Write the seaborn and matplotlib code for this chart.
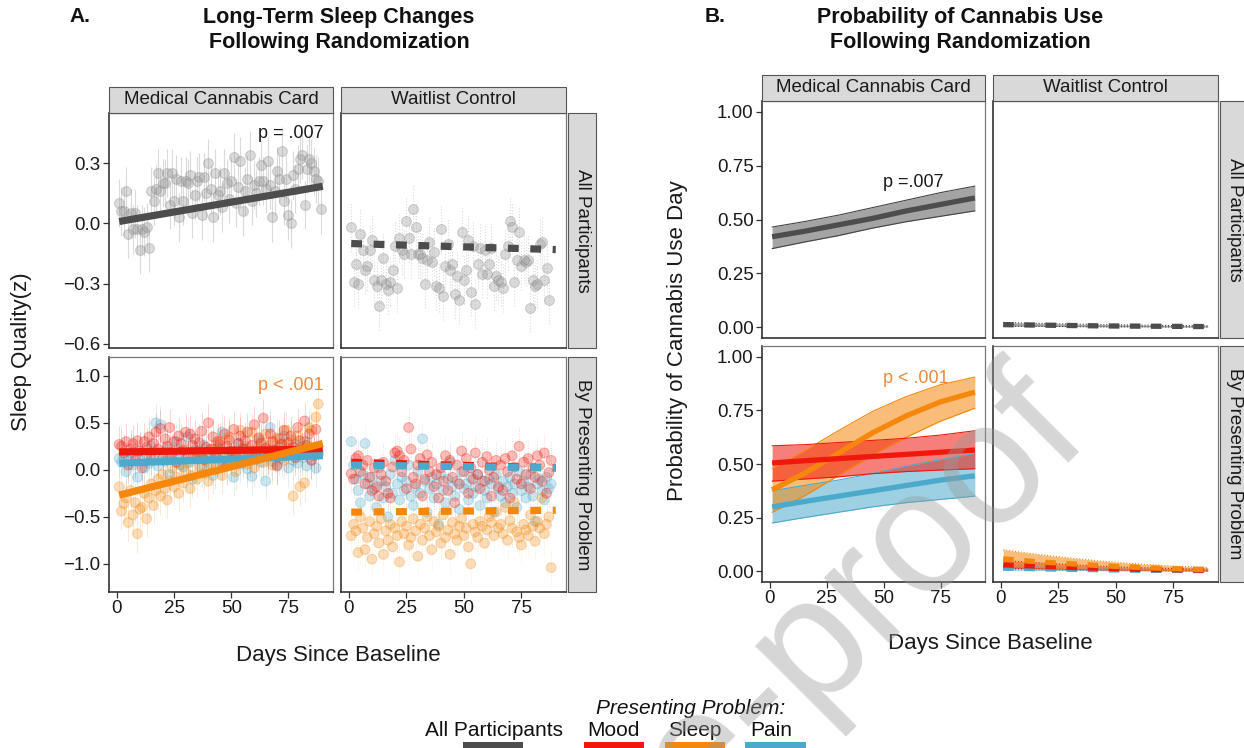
import numpy as np
import pandas as pd
import matplotlib
matplotlib.use("Agg")
import matplotlib.pyplot as plt
from matplotlib.patches import Rectangle
from matplotlib.ticker import FuncFormatter
import seaborn as sns

# ---------------- data ----------------
groups = ["Medical Cannabis Card", "Waitlist Control"]
rows = ["All Participants", "By Presenting Problem"]
problems = ["Mood", "Sleep", "Pain"]

# Panel A - daily mean sleep quality (z), Medical Cannabis Card, all participants
a_mcc_all = [0.10, 0.06, 0.06, 0.16, -0.05, 0.05, -0.03, 0.05, -0.03, -0.13, -0.03, -0.04,
             -0.02, -0.12, 0.16, 0.11, 0.17, 0.25, 0.16, 0.20, 0.20, 0.25, 0.09, 0.25,
             0.11, 0.22, 0.03, 0.21, 0.11, 0.21, 0.20, 0.24, 0.05, 0.14, 0.21, 0.23,
             0.04, 0.23, 0.15, 0.30, 0.17, 0.03, 0.25, 0.14, 0.16, 0.08, 0.25, 0.20,
             0.12, 0.21, 0.33, 0.10, 0.18, 0.31, 0.06, 0.16, 0.22, 0.34, 0.11, 0.19,
             0.15, 0.21, 0.29, 0.21, 0.17, 0.31, 0.19, 0.03, 0.16, 0.26, 0.22, 0.36,
             0.11, 0.22, 0.04, 0.00, 0.24, 0.17, 0.27, 0.32, 0.34, 0.09, 0.27, 0.32,
             0.30, 0.26, 0.22, 0.21, 0.07]
# Waitlist Control, all participants
a_wc_all = [-0.02, -0.29, -0.20, -0.30, -0.05, -0.13, -0.23, -0.21, -0.13, -0.08, -0.28,
            -0.31, -0.41, -0.28, -0.17, -0.30, -0.33, -0.29, -0.23, -0.11, -0.32, -0.07,
            -0.13, -0.15, 0.01, -0.07, -0.15, 0.07, -0.02, -0.15, -0.15, -0.17, -0.30,
            -0.18, -0.09, -0.19, -0.14, -0.31, -0.32, -0.03, -0.36, -0.21, -0.10, -0.23,
            -0.20, -0.35, -0.26, -0.38, -0.04, -0.28, -0.23, -0.08, -0.34, -0.11, -0.40,
            -0.20, -0.12, -0.25, -0.13, -0.25, -0.20, -0.12, -0.31, -0.26, -0.28, -0.29,
            -0.32, -0.15, -0.11, 0.01, -0.02, -0.29, -0.18, -0.04, -0.21, -0.18, -0.19,
            -0.18, -0.42, -0.28, -0.31, -0.30, -0.10, -0.09, -0.28, -0.22, -0.38]

# Panel A - by presenting problem, Medical Cannabis Card
a_mcc_mood = [0.27, 0.25, 0.18, 0.30, 0.05, 0.22, 0.28, 0.10, 0.31, 0.20, 0.02, 0.30, 0.24,
              0.35, 0.15, 0.28, 0.40, 0.22, 0.44, 0.12, 0.33, 0.25, 0.45, 0.18, 0.30, 0.08,
              0.36, 0.28, 0.21, 0.40, 0.14, 0.38, 0.26, 0.33, 0.19, 0.29, 0.41, 0.11, 0.24,
              0.50, 0.22, 0.35, 0.16, 0.30, 0.27, 0.09, 0.38, 0.25, 0.32, 0.20, 0.43, 0.14,
              0.28, 0.36, 0.22, 0.31, 0.40, 0.12, 0.26, 0.48, 0.19, 0.34, 0.28, 0.55, 0.23,
              0.15, 0.38, 0.30, 0.21, 0.04, 0.33, 0.27, 0.42, 0.18, 0.29, 0.36, 0.24, 0.13,
              0.45, 0.31, 0.20, 0.52, 0.26, 0.38, 0.10, 0.22, 0.43, 0.17]
a_mcc_sleep = [-0.18, -0.44, -0.36, -0.30, -0.56, -0.22, -0.48, -0.35, -0.68, -0.42, -0.40,
               -0.25, -0.52, -0.30, -0.15, -0.38, -0.22, -0.10, -0.28, -0.05, -0.20, -0.32,
               -0.12, 0.02, -0.18, -0.08, -0.25, 0.05, -0.14, -0.02, 0.08, -0.20, -0.06,
               0.12, -0.10, 0.03, 0.18, -0.04, 0.10, -0.12, 0.06, 0.22, 0.00, 0.15, 0.30,
               -0.06, 0.12, 0.04, 0.35, 0.08, 0.20, -0.02, 0.14, 0.42, 0.10, 0.25, 0.06,
               0.18, 0.40, 0.02, 0.22, 0.12, 0.30, 0.08, 0.38, 0.16, 0.26, 0.05, 0.20, 0.34,
               0.14, 0.28, 0.10, 0.42, 0.22, 0.32, -0.28, 0.18, 0.36, -0.18, 0.25, -0.14,
               0.30, 0.45, 0.42, 0.15, 0.56, 0.70]
a_mcc_pain = [0.12, 0.08, 0.15, -0.02, 0.10, 0.18, 0.05, 0.13, -0.08, 0.20, 0.09, 0.02, 0.16,
              0.07, 0.25, 0.11, 0.50, 0.04, 0.48, 0.14, 0.09, 0.22, -0.05, 0.17, 0.12, 0.30,
              0.06, 0.19, 0.03, 0.14, 0.35, 0.08, -0.10, 0.21, 0.11, 0.16, 0.02, 0.26, 0.13,
              0.07, 0.18, -0.06, 0.12, 0.24, 0.09, 0.40, 0.15, 0.04, 0.20, 0.10, -0.08, 0.17,
              0.28, 0.06, 0.13, 0.22, 0.01, 0.16, -0.07, 0.19, 0.11, 0.32, 0.08, 0.14, -0.12,
              0.21, 0.45, 0.09, 0.17, 0.05, 0.24, 0.12, 0.36, 0.15, 0.02, 0.20, 0.10, 0.27,
              0.07, 0.18, 0.13, 0.30, 0.04, 0.22, 0.11, 0.16, 0.02, 0.19]
# Waitlist Control by presenting problem
a_wc_mood = [-0.04, -0.10, 0.12, 0.15, -0.02, 0.05, -0.15, 0.10, -0.08, -0.22, 0.02, -0.18,
             -0.28, -0.05, 0.08, -0.12, -0.25, -0.30, 0.03, 0.18, 0.20, 0.15, -0.02, 0.10,
             -0.20, 0.45, 0.22, -0.08, -0.15, 0.05, 0.12, -0.28, -0.10, 0.16, -0.02, 0.08,
             -0.18, -0.05, -0.30, 0.02, -0.12, 0.15, -0.22, 0.10, -0.08, -0.35, 0.05, -0.15,
             0.20, -0.02, 0.12, -0.25, 0.02, -0.10, 0.18, -0.05, -0.20, 0.08, -0.12, 0.14,
             0.00, -0.28, -0.08, 0.10, -0.18, 0.05, -0.22, 0.12, -0.02, -0.30, 0.15, 0.03,
             -0.10, 0.25, -0.15, 0.08, -0.05, 0.12, -0.20, 0.02, -0.08, 0.15, 0.05, -0.12,
             0.18, -0.25, -0.03, 0.10]
a_wc_sleep = [-0.70, -0.58, -0.65, -0.88, -0.50, -0.62, -0.85, -0.72, -0.55, -0.95, -0.68,
              -0.60, -0.78, -0.52, -0.90, -0.65, -0.75, -0.58, -0.82, -0.62, -0.70, -0.98,
              -0.55, -0.68, -0.60, -0.80, -0.72, -0.52, -0.65, -0.92, -0.58, -0.75, -0.62,
              -0.50, -0.70, -0.85, -0.55, -0.66, -0.60, -0.78, -0.48, -0.72, -0.64, -0.90,
              -0.56, -0.68, -0.75, -0.60, -0.52, -0.70, -0.62, -0.82, -1.00, -0.58, -0.66,
              -0.72, -0.55, -0.60, -0.78, -0.64, -0.50, -0.56, -0.70, -0.45, -0.62, -0.58,
              -0.68, -0.40, -0.75, -0.54, -0.62, -0.35, -0.66, -0.72, -0.80, -0.58, -0.64,
              -0.70, -0.48, -0.60, -0.76, -0.55, -0.62, -0.30, -0.68, -0.58, -0.50, -1.04]
a_wc_pain = [0.30, 0.05, -0.10, -0.22, -0.35, -0.05, 0.28, -0.15, -0.28, -0.08, -0.20, -0.40,
             0.02, -0.12, -0.30, -0.18, -0.50, -0.05, -0.25, 0.10, -0.15, -0.32, -0.08, -0.22,
             -0.12, 0.05, -0.28, -0.38, -0.18, -0.02, -0.25, 0.33, -0.12, -0.45, -0.20, -0.08,
             -0.30, -0.15, -0.58, -0.05, -0.22, -0.35, -0.10, 0.08, -0.18, -0.28, -0.12, -0.42,
             -0.02, -0.20, -0.15, -0.32, -0.08, -0.25, -0.18, -0.05, -0.38, -0.12, -0.22, -0.30,
             -0.10, -0.15, -0.45, -0.05, -0.20, -0.28, -0.12, -0.35, -0.18, -0.08, -0.25, -0.15,
             -0.40, -0.02, -0.22, -0.12, -0.30, -0.18, -0.05, -0.28, -0.55, -0.15, -0.10, -0.22,
             -0.32, -0.08, -0.20, -0.15]
# approximate half-width of the daily error bars
a_err_top = 0.12
a_err_bottom = 0.2

# Panel A fitted lines (value at first and last day)
fit_days = [1, 90]
a_fit_mcc_all = [0.01, 0.185]
a_fit_wc_all = [-0.10, -0.13]
a_fit_mcc = {"Mood": [0.19, 0.22], "Sleep": [-0.27, 0.28], "Pain": [0.07, 0.15]}
a_fit_wc = {"Mood": [0.08, 0.02], "Sleep": [-0.45, -0.43], "Pain": [0.05, 0.02]}

# Panel B - predicted probability of a cannabis use day (estimate, lower, upper)
b_days = [1, 15, 30, 45, 60, 75, 90]
b_mcc_all = [0.42, 0.445, 0.475, 0.505, 0.54, 0.57, 0.60]
b_mcc_all_lo = [0.365, 0.395, 0.425, 0.46, 0.49, 0.515, 0.54]
b_mcc_all_hi = [0.465, 0.49, 0.52, 0.555, 0.59, 0.625, 0.655]
b_wc_all = [0.012, 0.010, 0.008, 0.006, 0.005, 0.004, 0.003]
b_wc_all_lo = [0.005, 0.004, 0.003, 0.002, 0.002, 0.001, 0.001]
b_wc_all_hi = [0.022, 0.018, 0.015, 0.012, 0.010, 0.008, 0.007]

b_mcc_mood = [0.505, 0.515, 0.525, 0.535, 0.545, 0.555, 0.565]
b_mcc_mood_lo = [0.42, 0.43, 0.44, 0.455, 0.465, 0.472, 0.478]
b_mcc_mood_hi = [0.585, 0.59, 0.60, 0.61, 0.62, 0.635, 0.655]
b_mcc_sleep = [0.38, 0.455, 0.55, 0.645, 0.725, 0.79, 0.835]
b_mcc_sleep_lo = [0.275, 0.35, 0.445, 0.54, 0.625, 0.70, 0.76]
b_mcc_sleep_hi = [0.48, 0.56, 0.655, 0.745, 0.815, 0.87, 0.905]
b_mcc_pain = [0.30, 0.325, 0.35, 0.375, 0.40, 0.425, 0.445]
b_mcc_pain_lo = [0.225, 0.25, 0.275, 0.30, 0.32, 0.335, 0.35]
b_mcc_pain_hi = [0.375, 0.40, 0.425, 0.455, 0.49, 0.52, 0.55]

b_wc_mood = [0.030, 0.024, 0.018, 0.013, 0.009, 0.007, 0.005]
b_wc_mood_lo = [0.015, 0.012, 0.009, 0.006, 0.004, 0.003, 0.002]
b_wc_mood_hi = [0.050, 0.040, 0.031, 0.023, 0.017, 0.013, 0.010]
b_wc_sleep = [0.058, 0.045, 0.035, 0.025, 0.018, 0.012, 0.008]
b_wc_sleep_lo = [0.022, 0.017, 0.012, 0.008, 0.005, 0.003, 0.002]
b_wc_sleep_hi = [0.100, 0.080, 0.062, 0.046, 0.034, 0.024, 0.018]
b_wc_pain = [0.015, 0.012, 0.009, 0.007, 0.005, 0.004, 0.003]
b_wc_pain_lo = [0.006, 0.005, 0.004, 0.003, 0.002, 0.001, 0.001]
b_wc_pain_hi = [0.028, 0.022, 0.017, 0.013, 0.010, 0.008, 0.006]

# ---------------- style ----------------
GRAY = "#4d4d4d"
RED = "#F0180C"
ORANGE = "#F5870C"
BLUE = "#4BAACB"
PAL = {"Mood": RED, "Sleep": ORANGE, "Pain": BLUE}
PTXT = "#EC8A3C"

sns.set_theme(style="white")
plt.rcParams['font.family'] = ['Liberation Sans', 'DejaVu Sans']
plt.rcParams['axes.unicode_minus'] = True

W, H = 1244, 748
fig = plt.figure(figsize=(W / 100, H / 100), dpi=100)


def px_ax(x0, y0, x1, y1):
    return fig.add_axes([x0 / W, 1 - y1 / H, (x1 - x0) / W, (y1 - y0) / H])


def strip(x0, y0, x1, y1, text, rot=0):
    fig.patches.append(Rectangle((x0 / W, 1 - y1 / H), (x1 - x0) / W, (y1 - y0) / H,
                                 transform=fig.transFigure, facecolor="#d9d9d9",
                                 edgecolor="#555555", lw=0.8, zorder=1))
    fig.text((x0 + x1) / 2 / W, 1 - (y0 + y1) / 2 / H, text, rotation=rot,
             ha="center", va="center", fontsize=13.5, color="#1a1a1a", zorder=2)


def fmt(dec):
    return FuncFormatter(lambda v, p: f"{v:.{dec}f}".replace("-", "\u2212"))


def style_ax(ax, xlim, ylim, yticks, dec, show_x, show_y):
    ax.set_xlim(*xlim)
    ax.set_ylim(*ylim)
    ax.set_xticks([0, 25, 50, 75])
    ax.set_yticks(yticks)
    ax.yaxis.set_major_formatter(fmt(dec))
    ax.set_xlabel("")
    ax.set_ylabel("")
    ax.tick_params(axis="both", which="both", direction="out", length=4, width=0.9,
                   color="#333333", labelsize=13.5, labelcolor="#1a1a1a", pad=2,
                   left=show_y, bottom=show_x, labelleft=show_y, labelbottom=show_x)
    for s in ["top", "right"]:
        ax.spines[s].set_color("#777777")
        ax.spines[s].set_linewidth(0.9)
    for s in ["left", "bottom"]:
        ax.spines[s].set_color("#333333")
        ax.spines[s].set_linewidth(1.2)
    ax.set_facecolor("white")


XL = (-3.45, 94.45)

# ---------------- Panel A ----------------
A_cols = [(109, 333), (341, 566)]
A_rows = [(113, 348), (357, 592)]
A_ylims = [(-0.62, 0.55), (-1.3, 1.2)]
A_yticks = [[-0.6, -0.3, 0.0, 0.3], [-1.0, -0.5, 0.0, 0.5, 1.0]]

top_series = [a_mcc_all, a_wc_all]
top_fits = [a_fit_mcc_all, a_fit_wc_all]
bottom_series = [{"Mood": a_mcc_mood, "Sleep": a_mcc_sleep, "Pain": a_mcc_pain},
                 {"Mood": a_wc_mood, "Sleep": a_wc_sleep, "Pain": a_wc_pain}]
bottom_fits = [a_fit_mcc, a_fit_wc]

for ci, (x0, x1) in enumerate(A_cols):
    dashed = ci == 1
    ls_line = (0, (1.5, 1.6)) if dashed else "-"
    ebls = ":" if dashed else "-"
    # top row
    ax = px_ax(x0, A_rows[0][0], x1, A_rows[0][1])
    vals = np.array(top_series[ci])
    days = np.arange(1, len(vals) + 1)
    ax.vlines(days, vals - a_err_top, vals + a_err_top, colors="#bdbdbd",
              linestyles=ebls, lw=0.8, alpha=0.55, zorder=1)
    sns.scatterplot(x=days, y=vals, ax=ax, color="#9a9a9a", alpha=0.35, s=50,
                    edgecolor="#8a8a8a", linewidth=0.8, zorder=2, legend=False)
    sns.lineplot(x=fit_days, y=top_fits[ci], ax=ax, color=GRAY, lw=5.2,
                 linestyle=ls_line, solid_capstyle="butt", dash_capstyle="butt", zorder=4)
    style_ax(ax, XL, A_ylims[0], A_yticks[0], 1, False, ci == 0)
    if ci == 0:
        ax.text(90.5, 0.45, "p = .007", ha="right", va="center", fontsize=13, color="#1a1a1a")
    # bottom row
    ax = px_ax(x0, A_rows[1][0], x1, A_rows[1][1])
    frames = []
    for prob in ["Pain", "Sleep", "Mood"]:
        v = np.array(bottom_series[ci][prob])
        d = np.arange(1, len(v) + 1)
        ax.vlines(d, v - a_err_bottom, v + a_err_bottom, colors=PAL[prob],
                  linestyles=ebls, lw=0.7, alpha=0.18, zorder=1)
        frames.append(pd.DataFrame({"day": d, "value": v, "problem": prob}))
    dfp = pd.concat(frames, ignore_index=True)
    sns.scatterplot(data=dfp, x="day", y="value", hue="problem", palette=PAL, ax=ax,
                    alpha=0.28, s=50, edgecolor="face", linewidth=0.8, zorder=2, legend=False)
    fit_df = pd.concat([pd.DataFrame({"day": fit_days, "value": bottom_fits[ci][p], "problem": p})
                        for p in ["Mood", "Pain", "Sleep"]], ignore_index=True)
    sns.lineplot(data=fit_df, x="day", y="value", hue="problem", palette=PAL, ax=ax,
                 lw=5.2, linestyle=ls_line, solid_capstyle="butt", dash_capstyle="butt",
                 legend=False, zorder=4)
    style_ax(ax, XL, A_ylims[1], A_yticks[1], 1, True, ci == 0)
    if ci == 0:
        ax.text(90.5, 0.90, "p < .001", ha="right", va="center", fontsize=13, color=PTXT)
    strip(x0, 87, x1, 113, groups[ci])

for ri, (y0, y1) in enumerate(A_rows):
    strip(568, y0, 596, y1, rows[ri], rot=-90)

fig.text(22 / W, 1 - 352 / H, "Sleep Quality(z)", rotation=90, ha="center", va="center",
         fontsize=16, color="#1a1a1a")
fig.text(338 / W, 1 - 655 / H, "Days Since Baseline", ha="center", va="center",
         fontsize=16, color="#1a1a1a")
fig.text(80 / W, 1 - 17 / H, "A.", ha="center", va="center", fontsize=15,
         fontweight="bold", color="#111111")
fig.text(339 / W, 1 - 30 / H, "Long-Term Sleep Changes\nFollowing Randomization",
         ha="center", va="center", fontsize=15.5, fontweight="bold", color="#111111",
         linespacing=1.3)

# ---------------- Panel B ----------------
B_cols = [(762, 985), (993, 1218)]
B_rows = [(101, 338), (346, 582)]
BYL = (-0.05, 1.05)
BYT = [0.0, 0.25, 0.5, 0.75, 1.0]

b_top = [(b_mcc_all, b_mcc_all_lo, b_mcc_all_hi), (b_wc_all, b_wc_all_lo, b_wc_all_hi)]
b_bottom = [
    {"Mood": (b_mcc_mood, b_mcc_mood_lo, b_mcc_mood_hi),
     "Sleep": (b_mcc_sleep, b_mcc_sleep_lo, b_mcc_sleep_hi),
     "Pain": (b_mcc_pain, b_mcc_pain_lo, b_mcc_pain_hi)},
    {"Mood": (b_wc_mood, b_wc_mood_lo, b_wc_mood_hi),
     "Sleep": (b_wc_sleep, b_wc_sleep_lo, b_wc_sleep_hi),
     "Pain": (b_wc_pain, b_wc_pain_lo, b_wc_pain_hi)},
]

for ci, (x0, x1) in enumerate(B_cols):
    dashed = ci == 1
    ls_line = (0, (2.0, 2.0)) if dashed else "-"
    ls_edge = ":" if dashed else "-"
    # top row
    ax = px_ax(x0, B_rows[0][0], x1, B_rows[0][1])
    est, lo, hi = b_top[ci]
    ax.fill_between(b_days, lo, hi, color="#5a5a5a", alpha=0.55, lw=0, zorder=1)
    ax.plot(b_days, lo, color="#444444", lw=0.8, ls=ls_edge, zorder=2)
    ax.plot(b_days, hi, color="#444444", lw=0.8, ls=ls_edge, zorder=2)
    sns.lineplot(x=b_days, y=est, ax=ax, color=GRAY, lw=3.8, linestyle=ls_line,
                 solid_capstyle="butt", dash_capstyle="butt", zorder=3)
    style_ax(ax, XL, BYL, BYT, 2, False, ci == 0)
    if ci == 0:
        ax.text(63, 0.67, "p =.007", ha="center", va="center", fontsize=13, color="#1a1a1a")
    # bottom row
    ax = px_ax(x0, B_rows[1][0], x1, B_rows[1][1])
    order = ["Pain", "Sleep", "Mood"] if ci == 0 else ["Pain", "Mood", "Sleep"]
    frames = []
    for prob in order:
        est, lo, hi = b_bottom[ci][prob]
        ax.fill_between(b_days, lo, hi, color=PAL[prob], alpha=0.55, lw=0, zorder=1)
        ax.plot(b_days, lo, color=PAL[prob], lw=0.8, ls=ls_edge, zorder=2)
        ax.plot(b_days, hi, color=PAL[prob], lw=0.8, ls=ls_edge, zorder=2)
        frames.append(pd.DataFrame({"day": b_days, "value": est, "problem": prob}))
    bdf = pd.concat(frames, ignore_index=True)
    sns.lineplot(data=bdf, x="day", y="value", hue="problem", palette=PAL, ax=ax,
                 lw=3.8, linestyle=ls_line, solid_capstyle="butt", dash_capstyle="butt",
                 legend=False, zorder=3)
    style_ax(ax, XL, BYL, BYT, 2, True, ci == 0)
    if ci == 0:
        ax.text(64, 0.90, "p < .001", ha="center", va="center", fontsize=13, color=PTXT)
    strip(x0, 75, x1, 101, groups[ci])

for ri, (y0, y1) in enumerate(B_rows):
    strip(1220, y0, 1248, y1, rows[ri], rot=-90)

fig.text(678 / W, 1 - 341 / H, "Probability of Cannabis Use Day", rotation=90,
         ha="center", va="center", fontsize=16, color="#1a1a1a")
fig.text(990 / W, 1 - 643 / H, "Days Since Baseline", ha="center", va="center",
         fontsize=16, color="#1a1a1a")
fig.text(715 / W, 1 - 17 / H, "B.", ha="center", va="center", fontsize=15,
         fontweight="bold", color="#111111")
fig.text(960 / W, 1 - 30 / H, "Probability of Cannabis Use\nFollowing Randomization",
         ha="center", va="center", fontsize=15.5, fontweight="bold", color="#111111",
         linespacing=1.3)

# ---------------- legend ----------------
fig.text(691 / W, 1 - 709 / H, "Presenting Problem:", ha="center", va="center",
         fontsize=15, style="italic", color="#111111")
leg = [("All Participants", 494, GRAY, 463, 523), ("Mood", 613, RED, 584, 644),
       ("Sleep", 695, ORANGE, 665, 725), ("Pain", 771, BLUE, 745, 806)]
for lab, cx, col, k0, k1 in leg:
    fig.text(cx / W, 1 - 731 / H, lab, ha="center", va="center", fontsize=15, color="#111111")
    fig.patches.append(Rectangle((k0 / W, 0), (k1 - k0) / W, 6 / H,
                                 transform=fig.transFigure, facecolor=col, edgecolor="none"))

# ---------------- watermark ----------------
fig.text(1089 / W, 1 - 429 / H, "Pre-proof", rotation=45, rotation_mode="anchor",
         ha="right", va="baseline", fontsize=125, color="#999999", alpha=0.4, zorder=50)

fig.savefig("out.png", dpi=100)
